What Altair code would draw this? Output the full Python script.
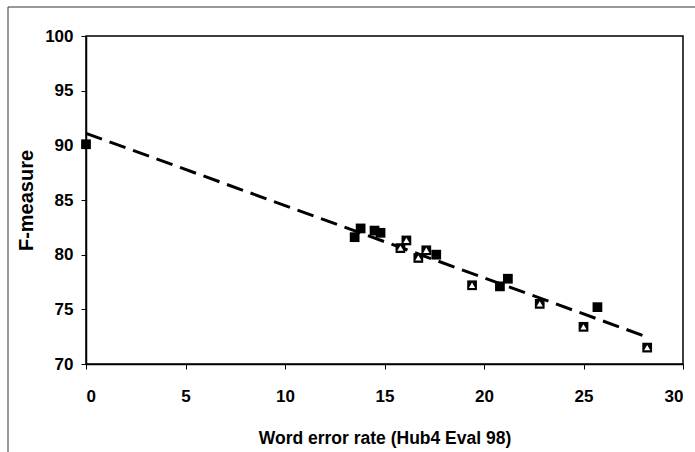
import altair as alt
import pandas as pd

# Filled-square series
sq_x = [0.0, 13.5, 13.8, 14.5, 14.8, 17.6, 20.8, 21.2, 25.7]
sq_y = [90.1, 81.6, 82.4, 82.2, 82.0, 80.0, 77.1, 77.8, 75.2]
# Boxed-triangle series
tri_x = [15.8, 16.1, 16.7, 17.1, 19.4, 22.8, 25.0, 28.2]
tri_y = [80.6, 81.3, 79.7, 80.4, 77.2, 75.5, 73.4, 71.5]
# Linear trend line end points
trend_x = [0.0, 28.3]
trend_y = [91.1, 72.4]
# Tick values
x_ticks = [0, 5, 10, 15, 20, 25, 30]
y_ticks = [70, 75, 80, 85, 90, 95, 100]

sq_df = pd.DataFrame({"wer": sq_x, "f": sq_y})
tri_df = pd.DataFrame({"wer": tri_x, "f": tri_y})
trend_df = pd.DataFrame({"wer": trend_x, "f": trend_y})

FONT = "Liberation Sans"
x_scale = alt.Scale(domain=[0, 30], nice=False, zero=False)
y_scale = alt.Scale(domain=[70, 100], nice=False, zero=False)

x_axis = alt.Axis(
    title="Word error rate (Hub4 Eval 98)", values=x_ticks, grid=False,
    tickSize=5, tickColor="black", tickWidth=1,
    domainColor="black", domainWidth=1.5,
    labelFont=FONT, labelFontSize=17, labelFontWeight="bold", labelColor="black",
    labelPadding=19,
    titleFont=FONT, titleFontSize=17.5, titleFontWeight="bold", titleColor="black",
    titleY=74, titleBaseline="middle",
)
y_axis = alt.Axis(
    title="F-measure", values=y_ticks, grid=False,
    tickSize=5, tickColor="black", tickWidth=1,
    domainColor="black", domainWidth=1.5,
    labelFont=FONT, labelFontSize=17, labelFontWeight="bold", labelColor="black",
    labelPadding=8,
    titleFont=FONT, titleFontSize=20, titleFontWeight="bold", titleColor="black",
    titleAngle=270, titleX=-60, titleBaseline="middle",
)

x_enc = alt.X("wer:Q", scale=x_scale, axis=x_axis)
y_enc = alt.Y("f:Q", scale=y_scale, axis=y_axis)

trend = alt.Chart(trend_df).mark_line(
    color="black", strokeWidth=3, strokeDash=[17, 8]
).encode(x=x_enc, y=y_enc)

squares = alt.Chart(sq_df).mark_point(
    shape="square", filled=True, color="black", size=95, opacity=1
).encode(x="wer:Q", y="f:Q")

tri_box = alt.Chart(tri_df).mark_point(
    shape="square", filled=True, color="black", size=95, opacity=1
).encode(x="wer:Q", y="f:Q")

tri_inner = alt.Chart(tri_df).mark_point(
    shape="triangle-up", filled=True, color="white", size=38, opacity=1
).encode(x="wer:Q", y="f:Q")

frame_df = pd.DataFrame({"k": [0]})
frame_left = alt.Chart(frame_df).mark_rule(color="#333333", strokeWidth=1).encode(
    x=alt.value(-78), y=alt.value(-29), y2=alt.value(416)
)
frame_top = alt.Chart(frame_df).mark_rule(color="#333333", strokeWidth=1).encode(
    x=alt.value(-78), x2=alt.value(609), y=alt.value(-29)
)

chart = alt.layer(trend, squares, tri_box, tri_inner, frame_left, frame_top).properties(
    width=597, height=328,
    autosize=alt.AutoSizeParams(type="none"),
    padding={"left": 86, "top": 36, "right": 12, "bottom": 88},
    background="white",
).configure_view(stroke="black", strokeWidth=1.5)

chart.save("out.html", embed_options={"renderer": "svg", "actions": False})
